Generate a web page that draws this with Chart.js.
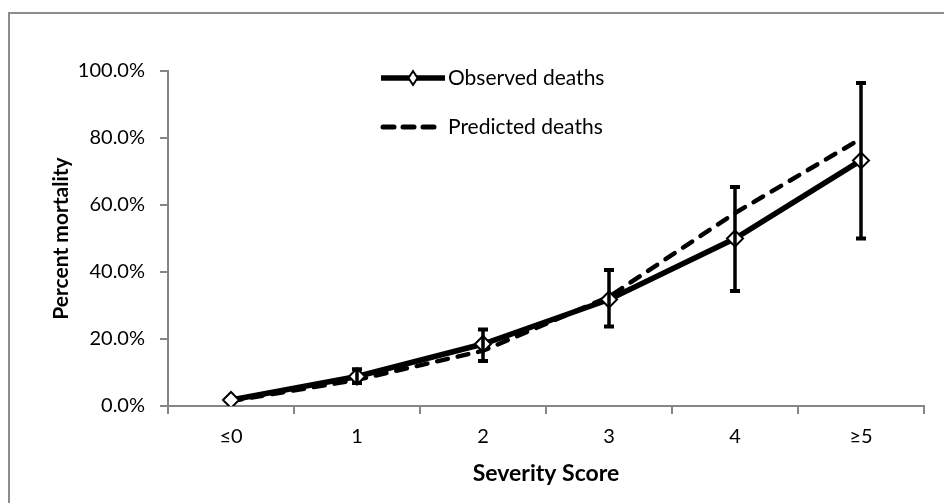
<!DOCTYPE html>
<html>
<head>
<meta charset="utf-8">
<script src="https://cdn.jsdelivr.net/npm/chart.js@4.4.1/dist/chart.umd.min.js"></script>
<style>
  html, body { margin: 0; padding: 0; background: #fff; overflow: hidden; }
  #wrap { position: relative; width: 944px; height: 503px; }
  #frame {
    position: absolute; left: 8px; top: 12px;
    width: 1000px; height: 600px;
    border: 2px solid #8c8c8c;
  }
  #chart { position: absolute; left: 0; top: 0; }
</style>
</head>
<body>
<div id="wrap">
  <div id="frame"></div>
  <canvas id="chart" width="944" height="503"></canvas>
</div>
<script>
// Chart data
const categories = ['≤0', '1', '2', '3', '4', '≥5'];
const observed = [1.8, 8.8, 18.5, 31.8, 50.0, 73.3];
const predicted = [1.5, 7.8, 16.5, 32.6, 57.6, 79.8];
const errLow = [null, 6.9, 13.4, 23.7, 34.3, 50.0];
const errHigh = [null, 11.0, 22.8, 40.6, 65.4, 96.4];
const yTicks = [0, 20, 40, 60, 80, 100];
const seriesNames = ['Observed deaths', 'Predicted deaths'];

const FONT = 'Lato, "Open Sans", sans-serif';
const AXIS_GRAY = '#868686';

// Vertical error bars on the observed series
const errorBars = {
    id: 'errorBars',
    afterDatasetsDraw(chart) {
        const { ctx, scales: { x, y } } = chart;
        ctx.save();
        ctx.strokeStyle = '#000';
        categories.forEach((c, i) => {
            if (errLow[i] == null) return;
            const px = x.getPixelForValue(i);
            const top = y.getPixelForValue(errHigh[i]);
            const bot = y.getPixelForValue(errLow[i]);
            ctx.lineWidth = 3.5;
            ctx.beginPath();
            ctx.moveTo(px, top);
            ctx.lineTo(px, bot);
            ctx.stroke();
            ctx.lineWidth = 4;
            ctx.beginPath();
            ctx.moveTo(px - 5, top);
            ctx.lineTo(px + 5, top);
            ctx.moveTo(px - 5, bot);
            ctx.lineTo(px + 5, bot);
            ctx.stroke();
        });
        ctx.restore();
    }
};

// Legend drawn inside the plot area, like the original
const insideLegend = {
    id: 'insideLegend',
    afterDraw(chart) {
        const ctx = chart.ctx;
        const x0 = 381, x1 = 445, tx = 448;
        const y0 = 78, y1 = 127;
        ctx.save();
        ctx.strokeStyle = '#000';

        // observed: solid line with diamond
        ctx.lineWidth = 5.5;
        ctx.beginPath();
        ctx.moveTo(x0, y0);
        ctx.lineTo(x1, y0);
        ctx.stroke();
        const dx = 413;
        ctx.beginPath();
        ctx.moveTo(dx, y0 - 7);
        ctx.lineTo(dx + 4.5, y0);
        ctx.lineTo(dx, y0 + 7);
        ctx.lineTo(dx - 4.5, y0);
        ctx.closePath();
        ctx.fillStyle = '#fff';
        ctx.fill();
        ctx.lineWidth = 2;
        ctx.stroke();

        // predicted: dashes
        ctx.lineWidth = 5;
        ctx.lineCap = 'round';
        [[383, 394], [403, 414], [423, 434]].forEach(([a, b]) => {
            ctx.beginPath();
            ctx.moveTo(a, y1);
            ctx.lineTo(b, y1);
            ctx.stroke();
        });

        ctx.fillStyle = '#000';
        ctx.font = '21px ' + FONT;
        ctx.textBaseline = 'middle';
        ctx.textAlign = 'left';
        ctx.fillText(seriesNames[0], tx, y0);
        ctx.fillText(seriesNames[1], tx, y1);
        ctx.restore();
    }
};

new Chart(document.getElementById('chart'), {
    type: 'line',
    data: {
        labels: categories,
        datasets: [
            {
                label: seriesNames[0],
                data: observed,
                borderColor: '#000',
                borderWidth: 5.5,
                tension: 0,
                pointStyle: 'rectRot',
                pointRadius: 8,
                pointBackgroundColor: '#fff',
                pointBorderColor: '#000',
                pointBorderWidth: 2
            },
            {
                label: seriesNames[1],
                data: predicted,
                borderColor: '#000',
                borderWidth: 4.5,
                borderDash: [11, 10],
                borderCapStyle: 'round',
                tension: 0,
                pointRadius: 0
            }
        ]
    },
    options: {
        responsive: false,
        animation: false,
        devicePixelRatio: 1,
        layout: { padding: { top: 71, right: 20, left: 0, bottom: 0 } },
        plugins: {
            legend: { display: false },
            tooltip: { enabled: false }
        },
        scales: {
            x: {
                offset: true,
                grid: {
                    offset: true,
                    drawOnChartArea: false,
                    color: AXIS_GRAY,
                    lineWidth: 2,
                    tickLength: 8
                },
                border: { color: AXIS_GRAY, width: 2 },
                ticks: {
                    color: '#000',
                    padding: 11,
                    font: { family: FONT, size: 20 }
                },
                title: {
                    display: true,
                    text: 'Severity Score',
                    color: '#000',
                    padding: { top: 0, bottom: 16 },
                    font: { family: FONT, size: 23, weight: 'bold' }
                },
                afterFit(scale) { scale.height = 97; }
            },
            y: {
                min: 0,
                max: 100,
                afterBuildTicks(scale) {
                    scale.ticks = yTicks.map(v => ({ value: v }));
                },
                grid: {
                    drawOnChartArea: false,
                    color: AXIS_GRAY,
                    lineWidth: 2,
                    tickLength: 8
                },
                border: { color: AXIS_GRAY, width: 2 },
                ticks: {
                    color: '#000',
                    padding: 15,
                    font: { family: FONT, size: 20 },
                    callback: v => v.toFixed(1) + '%'
                },
                title: {
                    display: true,
                    text: 'Percent mortality',
                    color: '#000',
                    padding: { top: 49, bottom: 0 },
                    font: { family: FONT, size: 21, weight: 'bold' }
                },
                afterFit(scale) { scale.width = 168; }
            }
        }
    },
    plugins: [errorBars, insideLegend]
});
</script>
</body>
</html>
